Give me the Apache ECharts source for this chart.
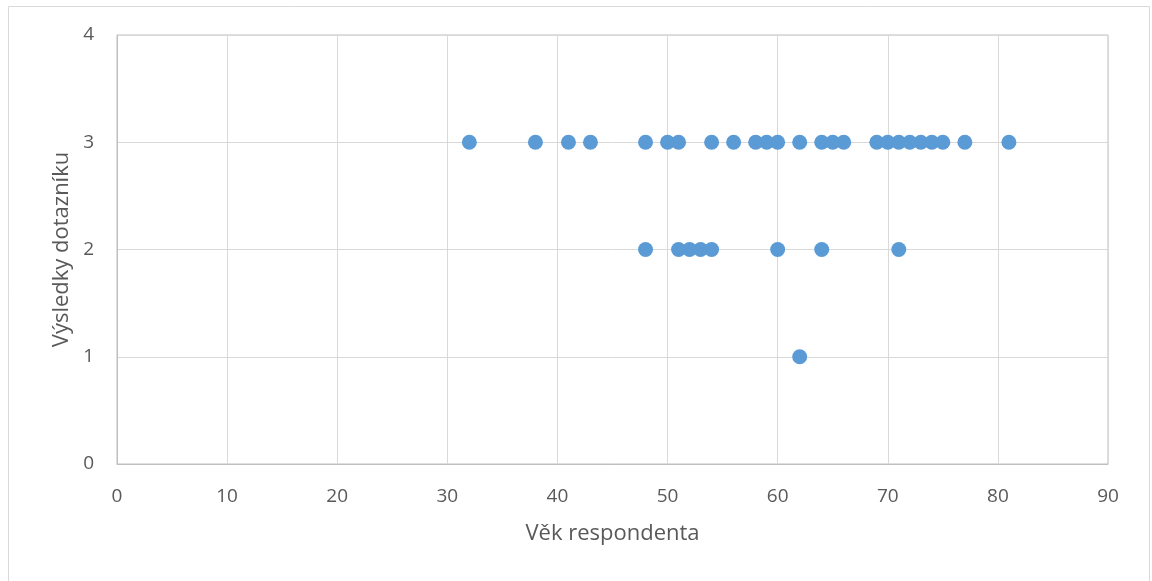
<!DOCTYPE html>
<html lang="cs">
<head>
<meta charset="UTF-8">
<title>Výsledky dotazníku podle věku</title>
<script src="https://cdn.jsdelivr.net/npm/echarts@6/dist/echarts.min.js"></script>
<style>
  html, body { margin: 0; padding: 0; background: #fff; }
  #chart { width: 1152px; height: 581px; }
</style>
</head>
<body>
<div id="chart"></div>
<script>
// věk respondentů pro jednotlivé výsledky
const ages3 = [32, 38, 41, 43, 48, 50, 51, 54, 56, 58, 59, 60, 62, 64, 65, 66, 69, 70, 71, 72, 73, 74, 75, 77, 81];
const ages2 = [48, 51, 52, 53, 54, 60, 64, 71];
const ages1 = [62];

const points = []
  .concat(ages3.map(a => [a, 3]))
  .concat(ages2.map(a => [a, 2]))
  .concat(ages1.map(a => [a, 1]));

const chart = echarts.init(document.getElementById('chart'));
const font = '"Open Sans", "Noto Sans", sans-serif';

chart.setOption({
  animation: false,
  graphic: [{
    type: 'rect',
    shape: { x: 8.5, y: 6.5, width: 1141, height: 580 },
    style: { fill: 'none', stroke: '#d9d9d9', lineWidth: 1 }
  }],
  grid: { left: 117, right: 44, top: 35, bottom: 117, show: true, borderColor: '#bfbfbf', borderWidth: 1 },
  xAxis: {
    type: 'value', min: 0, max: 90, interval: 10,
    name: 'Věk respondenta', nameLocation: 'middle', nameGap: 59,
    nameTextStyle: { fontFamily: font, fontSize: 22, color: '#595959' },
    axisLine: { show: true, lineStyle: { color: '#bfbfbf' } },
    axisTick: { show: false },
    axisLabel: { fontFamily: font, fontSize: 19, color: '#595959', margin: 23 },
    splitLine: { lineStyle: { color: '#d9d9d9' } }
  },
  yAxis: {
    type: 'value', min: 0, max: 4, interval: 1,
    name: 'Výsledky dotazníku', nameLocation: 'middle', nameGap: 44,
    nameTextStyle: { fontFamily: font, fontSize: 22, color: '#595959' },
    axisLine: { show: true, lineStyle: { color: '#bfbfbf' } },
    axisTick: { show: false },
    axisLabel: { fontFamily: font, fontSize: 19, color: '#595959', margin: 23 },
    splitLine: { lineStyle: { color: '#d9d9d9' } }
  },
  series: [{
    type: 'scatter',
    data: points,
    symbolSize: 15,
    itemStyle: { color: '#5b9bd5', opacity: 1 }
  }]
});
</script>
</body>
</html>
